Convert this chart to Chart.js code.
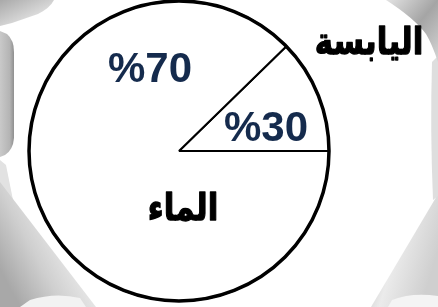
<!DOCTYPE html>
<html>
<head>
<meta charset="utf-8">
<script src="https://cdn.jsdelivr.net/npm/chart.js@4/dist/chart.umd.min.js"></script>
<style>
  html, body { margin: 0; padding: 0; background: #ffffff; }
  #wrap { position: relative; width: 438px; height: 307px; overflow: hidden; }
  #bg { position: absolute; left: 0; top: 0; }
  #c { position: absolute; left: 0; top: 0; }
</style>
</head>
<body>
<div id="wrap">
<svg id="bg" width="438" height="307" viewBox="0 0 438 307">
  <defs>
    <linearGradient id="gTL" x1="0" y1="0" x2="1" y2="1">
      <stop offset="0" stop-color="#a9a9a9"/><stop offset="0.6" stop-color="#d9d9d9"/><stop offset="1" stop-color="#efefef"/>
    </linearGradient>
    <linearGradient id="gL" x1="0" y1="0" x2="1" y2="0">
      <stop offset="0" stop-color="#c9c9c9"/><stop offset="0.7" stop-color="#b4b4b4"/><stop offset="1" stop-color="#8f8f8f"/>
    </linearGradient>
    <linearGradient id="gBL" x1="1" y1="0" x2="0" y2="0.7">
      <stop offset="0" stop-color="#7d7d7d"/><stop offset="0.12" stop-color="#bdbdbd"/><stop offset="0.4" stop-color="#ececec"/><stop offset="0.7" stop-color="#cfcfcf"/><stop offset="1" stop-color="#a8a8a8"/>
    </linearGradient>
    <linearGradient id="gBR" x1="0" y1="0" x2="1" y2="0.5">
      <stop offset="0" stop-color="#8a8a8a"/><stop offset="0.15" stop-color="#c2c2c2"/><stop offset="0.5" stop-color="#ebebeb"/><stop offset="1" stop-color="#cfcfcf"/>
    </linearGradient>
    <linearGradient id="gTR" x1="0" y1="0" x2="1" y2="1">
      <stop offset="0" stop-color="#e3e3e3"/><stop offset="0.5" stop-color="#a5a5a5"/><stop offset="1" stop-color="#d5d5d5"/>
    </linearGradient>
  </defs>
  <path d="M0,0 L54,0 Q50,8 38,14 L12,23 L0,26 Z" fill="url(#gTL)"/>
  <path d="M0,31 L7,34 Q14,40 14,52 L14,138 Q13,150 5,155 L0,157 Z" fill="url(#gL)"/>
  <path d="M0,160 L6,165 L14,205 L0,215 Z" fill="#e2e2e2"/>
  <path d="M0,182 L96,307 L0,307 Z" fill="url(#gBL)"/>
  <path d="M30,300 Q55,292 80,298 L86,307 L20,307 Z" fill="#f2f2f2"/>
  <path d="M371,307 L438,194 L438,307 Z" fill="url(#gBR)"/>
  <path d="M392,300 Q412,292 438,296 L438,307 L388,307 Z" fill="#f4f4f4"/>
  <path d="M432,62 L438,56 L438,196 L433,200 Q430,130 432,62 Z" fill="#dedede"/>
  <path d="M386,0 L438,0 L438,62 Q432,44 426,34 Q414,18 386,0 Z" fill="url(#gTR)"/>
</svg>
<canvas id="c" width="438" height="307"></canvas>
</div>
<script>
// Category names (Arabic, as in the reference)
const categories = ['اليابسة', 'الماء'];
// Percentages printed on the chart
const percentLabels = [30, 70];
// Slice sizes as actually drawn in the reference picture (land wedge ≈ 44°)
const drawnShares = [12.3, 87.7];

const percentText = percentLabels.map(v => '%' + v);
const totalShare = drawnShares.reduce((a, b) => a + b, 0);
// rotate so the first wedge ends exactly at 3 o'clock
const rotationDeg = 90 - 360 * drawnShares[0] / totalShare;

const NAVY = '#152b4d';

function arabicText(ctx, text, x, y) {
  ctx.save();
  ctx.translate(x, y);
  ctx.scale(1, 1.2);
  ctx.fillText(text, 0, 0);
  ctx.lineWidth = 1.1;
  ctx.strokeStyle = '#000000';
  ctx.lineJoin = 'round';
  ctx.strokeText(text, 0, 0);
  ctx.restore();
}

const labelPlugin = {
  id: 'labels',
  afterDatasetsDraw(chart) {
    const ctx = chart.ctx;
    const arc = chart.getDatasetMeta(0).data[0];
    const cx = arc.x, cy = arc.y, r = arc.outerRadius;
    // outer circle, thicker than the radial lines
    ctx.save();
    ctx.beginPath();
    ctx.arc(cx, cy, r, 0, Math.PI * 2);
    ctx.lineWidth = 3.5;
    ctx.strokeStyle = '#000000';
    ctx.stroke();

    ctx.textAlign = 'center';
    ctx.textBaseline = 'middle';
    ctx.direction = 'ltr';
    // percentage labels
    ctx.fillStyle = NAVY;
    ctx.font = 'bold 42px "Liberation Sans", Arial, sans-serif';
    ctx.fillText(percentText[0], cx + 0.58 * r, cy - 0.15 * r + 1);
    ctx.fillText(percentText[1], cx - 0.193 * r, cy - 0.547 * r + 1);
    // category names
    ctx.fillStyle = '#000000';
    ctx.direction = 'rtl';
    ctx.font = 'bold 31px "DejaVu Sans", sans-serif';
    arabicText(ctx, categories[0], cx + 1.267 * r, cy - 0.707 * r - 1);
    arabicText(ctx, categories[1], cx + 0.027 * r, cy + 0.4 * r - 1);
    ctx.restore();
  }
};

new Chart(document.getElementById('c'), {
  type: 'pie',
  data: {
    labels: categories,
    datasets: [{
      data: drawnShares,
      backgroundColor: ['#ffffff', '#ffffff'],
      borderColor: '#000000',
      borderWidth: 2,
      borderAlign: 'center'
    }]
  },
  options: {
    responsive: false,
    animation: false,
    devicePixelRatio: 1,
    rotation: rotationDeg,
    layout: { padding: { left: 0, right: 80, top: 0, bottom: 5 } },
    plugins: {
      legend: { display: false },
      tooltip: { enabled: false }
    }
  },
  plugins: [labelPlugin]
});
</script>
</body>
</html>
